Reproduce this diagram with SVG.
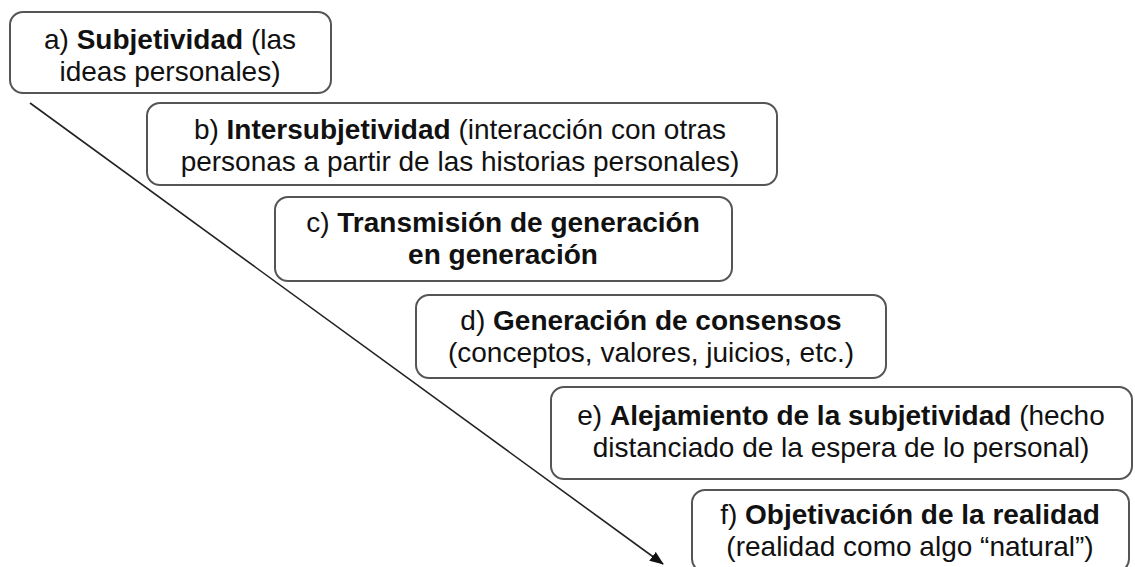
<svg xmlns="http://www.w3.org/2000/svg" width="1135" height="567" viewBox="0 0 1135 567">
<style>
.box{fill:#fff;stroke:#555;stroke-width:2}
.t{font-family:"Liberation Sans",Arial,sans-serif;font-size:28px;fill:#111;text-anchor:middle}
.b{font-weight:bold}
.conn{stroke:#222;stroke-width:1.6;fill:none}
</style>
<defs>
<marker id="ah" markerWidth="14" markerHeight="11" refX="13" refY="5.5" orient="auto" markerUnits="userSpaceOnUse" viewBox="0 0 14 11">
<path d="M0,0 L14,5.5 L0,11 z" fill="#111"/>
</marker>
</defs>
<g id="connectors">
<line class="conn" x1="30" y1="103" x2="663" y2="564" marker-end="url(#ah)"/>
</g>
<g id="node-a">
<rect class="box" x="10" y="12" width="321" height="81" rx="13"/>
<text class="t" x="170" y="49">a) <tspan class="b">Subjetividad</tspan> (las</text>
<text class="t" x="170" y="81">ideas personales)</text>
</g>
<g id="node-b">
<rect class="box" x="147" y="103" width="630" height="82" rx="13"/>
<text class="t" x="460" y="139">b) <tspan class="b">Intersubjetividad</tspan> (interacción con otras</text>
<text class="t" x="460" y="171">personas a partir de las historias personales)</text>
</g>
<g id="node-c">
<rect class="box" x="275" y="197" width="457" height="84" rx="13"/>
<text class="t" x="503" y="232">c) <tspan class="b">Transmisión de generación</tspan></text>
<text class="t b" x="503" y="264">en generación</text>
</g>
<g id="node-d">
<rect class="box" x="416" y="295" width="470" height="83" rx="13"/>
<text class="t" x="651" y="330">d) <tspan class="b">Generación de consensos</tspan></text>
<text class="t" x="651" y="362">(conceptos, valores, juicios, etc.)</text>
</g>
<g id="node-e">
<rect class="box" x="551" y="387" width="581" height="92" rx="13"/>
<text class="t" x="841" y="425">e) <tspan class="b">Alejamiento de la subjetividad</tspan> (hecho</text>
<text class="t" x="841" y="457">distanciado de la espera de lo personal)</text>
</g>
<g id="node-f">
<rect class="box" x="692" y="490" width="437" height="82" rx="13"/>
<text class="t" x="910" y="524">f) <tspan class="b">Objetivación de la realidad</tspan></text>
<text class="t" x="910" y="556">(realidad como algo “natural”)</text>
</g>
</svg>
